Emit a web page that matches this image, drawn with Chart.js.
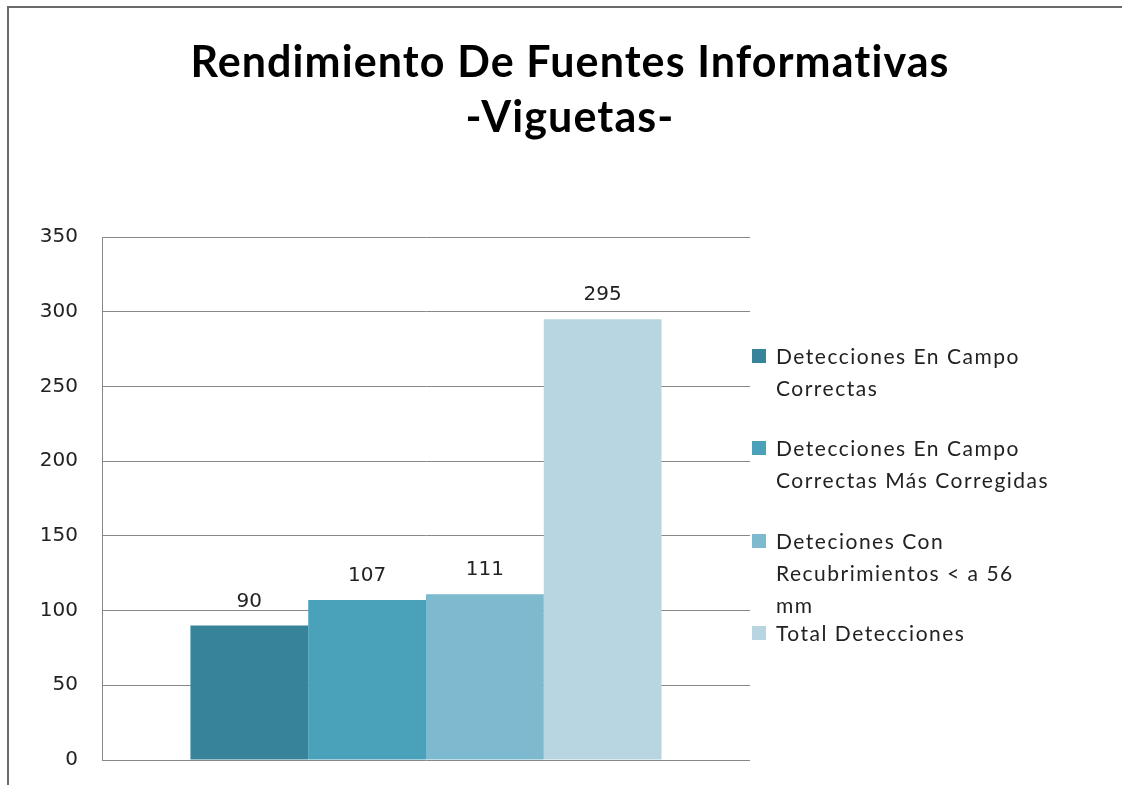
<!DOCTYPE html>
<html>
<head>
<meta charset="utf-8">
<script src="https://cdn.jsdelivr.net/npm/chart.js@4"></script>
<style>
  html, body { margin: 0; padding: 0; background: #fff; }
  #wrap { position: relative; width: 1122px; height: 785px; overflow: hidden; }
  #frame { position: absolute; left: 7px; top: 6px; width: 1200px; height: 900px;
           border-left: 2px solid #6a6a6a; border-top: 2px solid #6a6a6a; }
  #chart { position: absolute; left: 0; top: 0; }
  #title { position: absolute; left: 0; top: 33px; width: 1140px; text-align: center;
           font-family: "Lato", sans-serif; font-weight: bold; font-size: 43px;
           letter-spacing: 1.1px; line-height: 55px; color: #000; }
  #legend { position: absolute; left: 752px; top: 340px; width: 360px;
            font-family: "Lato", sans-serif; font-size: 21px; letter-spacing: 1.5px; color: #222; }
  .item { position: absolute; left: 0; line-height: 32px; white-space: nowrap; }
  .box { position: absolute; left: 0; top: 9px; width: 14px; height: 14px; }
  .txt { margin-left: 24px; display: block; }
</style>
</head>
<body>
<div id="wrap">
  <div id="frame"></div>
  <canvas id="chart" width="1122" height="796"></canvas>
  <div id="title"></div>
  <div id="legend"></div>
</div>
<script>
const titleLines = ['Rendimiento De Fuentes Informativas', '-Viguetas-'];
const categories = [''];
const seriesNames = [
  ['Detecciones En Campo', 'Correctas'],
  ['Detecciones En Campo', 'Correctas Más Corregidas'],
  ['Deteciones Con', 'Recubrimientos < a 56', 'mm'],
  ['Total Detecciones']
];
const seriesValues = [90, 107, 111, 295];
const seriesColors = ['#37839a', '#49a1ba', '#7db9cf', '#b7d6e1'];
const yTicks = [0, 50, 100, 150, 200, 250, 300, 350];

const legendTops = [0, 92, 185, 277];

const valueLabels = {
  id: 'valueLabels',
  afterDatasetsDraw(chart) {
    const c = chart.ctx;
    c.save();
    c.font = '20px "DejaVu Sans"';
    c.fillStyle = '#222';
    c.textAlign = 'center';
    c.textBaseline = 'alphabetic';
    chart.data.datasets.forEach((ds, i) => {
      chart.getDatasetMeta(i).data.forEach((bar, j) => {
        c.fillText(String(ds.data[j]), bar.x, bar.y - 19);
      });
    });
    c.restore();
  }
};

const ctx = document.getElementById('chart');
new Chart(ctx, {
  type: 'bar',
  data: {
    labels: categories,
    datasets: seriesValues.map((v, i) => ({
      label: seriesNames[i].join(' '),
      data: [v],
      backgroundColor: seriesColors[i],
      borderWidth: 0,
      categoryPercentage: 0.727,
      barPercentage: 1
    }))
  },
  options: {
    responsive: false,
    animation: false,
    // the y tick padding reserves ~36px below the axis, so the canvas runs past the page bottom
    layout: { padding: { left: 0, right: 372, top: 237, bottom: 0 } },
    plugins: {
      legend: { display: false },
      tooltip: { enabled: false },
      title: { display: false }
    },
    scales: {
      x: { display: false },
      y: {
        min: 0,
        max: 350,
        afterFit(scale) { scale.width = 102; },
        afterBuildTicks(scale) { scale.ticks = yTicks.map(v => ({ value: v })); },
        border: { display: true, color: '#888', width: 1 },
        grid: { color: '#888', lineWidth: 1, drawTicks: false },
        ticks: {
          padding: 24,
          color: '#222',
          font: { family: 'DejaVu Sans', size: 20 }
        }
      }
    }
  },
  plugins: [valueLabels]
});

const title = document.getElementById('title');
titleLines.forEach(t => {
  const d = document.createElement('div');
  d.textContent = t;
  title.appendChild(d);
});

const legend = document.getElementById('legend');
seriesNames.forEach((lines, i) => {
  const item = document.createElement('div');
  item.className = 'item';
  item.style.top = legendTops[i] + 'px';
  const box = document.createElement('span');
  box.className = 'box';
  box.style.background = seriesColors[i];
  item.appendChild(box);
  lines.forEach(t => {
    const s = document.createElement('span');
    s.className = 'txt';
    s.textContent = t;
    item.appendChild(s);
  });
  legend.appendChild(item);
});
</script>
</body>
</html>
